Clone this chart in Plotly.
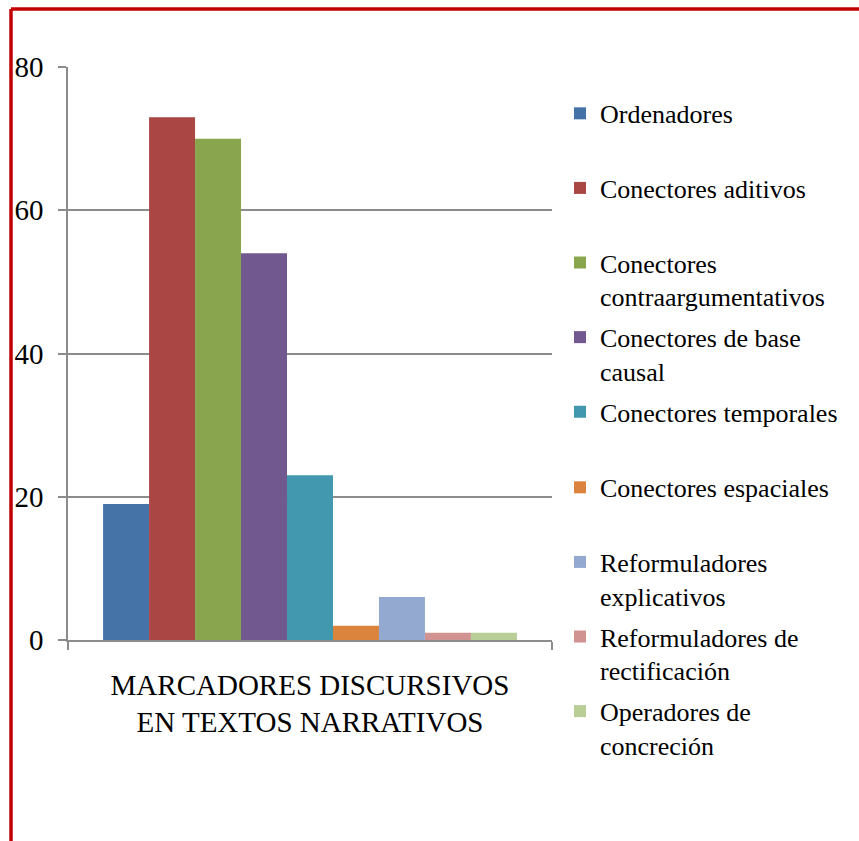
import plotly.graph_objects as go

# DATA:
category = ['MARCADORES DISCURSIVOS<br>EN TEXTOS NARRATIVOS']
series_names = [
    'Ordenadores<br> ',
    'Conectores aditivos<br> ',
    'Conectores<br>contraargumentativos',
    'Conectores de base<br>causal',
    'Conectores temporales<br> ',
    'Conectores espaciales<br> ',
    'Reformuladores<br>explicativos',
    'Reformuladores de<br>rectificación',
    'Operadores de<br>concreción',
]
series_values = [19, 73, 70, 54, 23, 2, 6, 1, 1]
y_ticks = [0, 20, 40, 60, 80]

COLORS = ['#4572A7', '#AA4643', '#89A54E', '#71588F', '#4198AF',
          '#DB843D', '#93A9CF', '#D19392', '#B9CD96']
FONT = 'Times New Roman'
GRID = '#8C8C8C'
FRAME_RED = '#C00000'

# the legend is taller than the plot area, so it is split in two stacked legends
LEGEND_STYLE = dict(
    x=1.0165, xanchor='left',
    yanchor='top',
    valign='top',
    itemwidth=30,
    tracegroupgap=4,
    font=dict(family=FONT, size=26, color='black'),
    bgcolor='rgba(0,0,0,0)',
)

fig = go.Figure()
for i, (name, value, color) in enumerate(zip(series_names, series_values, COLORS)):
    fig.add_trace(go.Bar(
        x=category,
        y=[value],
        name=name,
        legendgroup=name,
        legend='legend' if i < 5 else 'legend2',
        marker=dict(color=color, line=dict(width=0)),
    ))

fig.update_layout(
    width=859,
    height=841,
    plot_bgcolor='white',
    paper_bgcolor='white',
    barmode='group',
    bargap=0.145,
    bargroupgap=0,
    margin=dict(l=68, r=307, t=67, b=201, pad=0),
    font=dict(family=FONT, color='black'),
    legend=dict(LEGEND_STYLE, y=0.96),
    legend2=dict(LEGEND_STYLE, y=0.3073),
    yaxis=dict(
        range=[0, 80],
        tickvals=y_ticks,
        showgrid=True,
        gridcolor=GRID,
        gridwidth=1.5,
        zeroline=False,
        showline=True,
        linecolor=GRID,
        linewidth=1.5,
        ticks='outside',
        ticklen=8,
        tickcolor=GRID,
        tickwidth=1.5,
        ticklabelstandoff=9,
        tickfont=dict(family=FONT, size=29, color='black'),
    ),
    xaxis=dict(
        showgrid=False,
        zeroline=False,
        showline=True,
        linecolor=GRID,
        linewidth=1.5,
        ticks='outside',
        tickson='boundaries',
        ticklen=8,
        tickcolor=GRID,
        tickwidth=1.5,
        ticklabelstandoff=18,
        tickfont=dict(family=FONT, size=29, color='black'),
    ),
    shapes=[
        # red frame round the chart (left and top edges)
        dict(type='line', xref='paper', yref='paper',
             x0=(11 - 68) / 484, x1=(11 - 68) / 484,
             y0=(640 - 9) / 573, y1=(640 - 845) / 573,
             line=dict(color=FRAME_RED, width=3.5)),
        dict(type='line', xref='paper', yref='paper',
             x0=(11 - 68) / 484, x1=(862 - 68) / 484,
             y0=(640 - 9) / 573, y1=(640 - 9) / 573,
             line=dict(color=FRAME_RED, width=3.5)),
    ],
)

fig.write_html(
    'out.html',
    config={'displayModeBar': False},
    post_script="document.body.style.margin='0px';",
)
